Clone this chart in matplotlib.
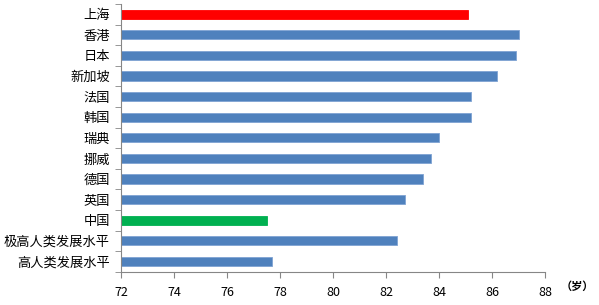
import matplotlib
matplotlib.use("Agg")
import matplotlib.pyplot as plt
import numpy as np

plt.rcParams['font.family'] = ['Noto Sans CJK SC', 'DejaVu Sans']

# data, top to bottom
regions = ['上海', '香港', '日本', '新加坡', '法国', '韩国', '瑞典', '挪威', '德国', '英国',
           '中国', '极高人类发展水平', '高人类发展水平']
life_exp = [85.1, 87.0, 86.9, 86.2, 85.2, 85.2, 84.0, 83.7, 83.4, 82.7, 77.5, 82.4, 77.7]
colors = ['#FF0000'] + ['#4F81BD'] * 9 + ['#00B050'] + ['#4F81BD'] * 2

fig = plt.figure(figsize=(5.99, 3.05), dpi=100)
ax = fig.add_axes([0.202, 0.109, 0.708, 0.878])

y = np.arange(len(regions))[::-1]
base = 72
ax.barh(y, np.array(life_exp) - base, left=base, height=0.45, color=colors,
        edgecolor=[c if c != '#4F81BD' else '#7FA3D3' for c in colors], linewidth=0.6)

ax.set_xlim(72, 88)
ax.set_ylim(-0.5, len(regions) - 0.5)
ax.set_xticks(np.arange(72, 89, 2))
ax.set_yticks(y)
ax.set_yticklabels(regions, fontsize=9.5)
ax.set_yticks(np.arange(-0.5, len(regions), 1), minor=True)
ax.tick_params(axis='y', which='major', length=0, pad=8)
ax.tick_params(axis='y', which='minor', length=4, color='#868686')
ax.tick_params(axis='x', length=4, color='#868686', labelsize=9, pad=6)

for s in ['top', 'right']:
    ax.spines[s].set_visible(False)
for s in ['left', 'bottom']:
    ax.spines[s].set_color('#868686')

fig.text(0.963, 0.062, '（岁）', fontsize=8, fontweight='bold', ha='center', va='center')

plt.savefig('out.png', dpi=100)
